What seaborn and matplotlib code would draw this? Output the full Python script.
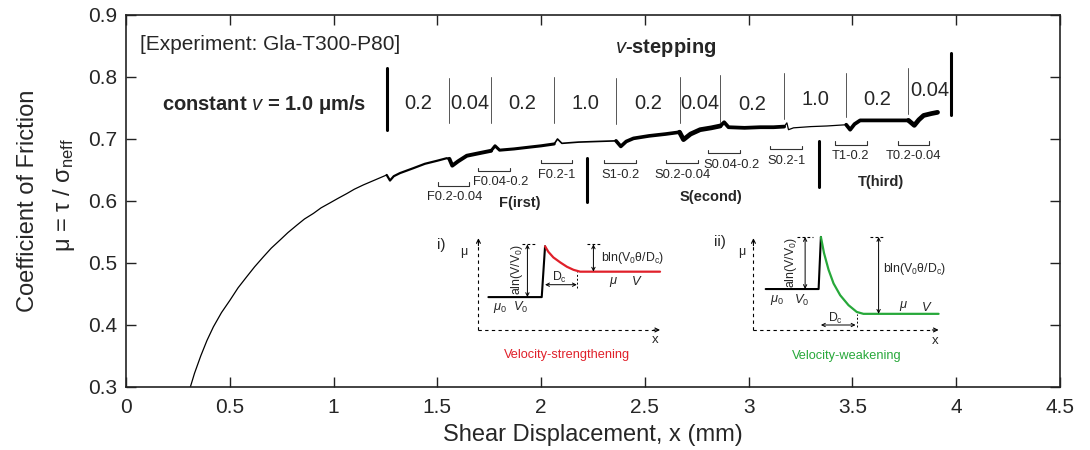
import numpy as np
import pandas as pd
import matplotlib
matplotlib.use("Agg")
import matplotlib.pyplot as plt
import seaborn as sns

# ---------------- data ----------------
disp_mm = [0.31, 0.33, 0.36, 0.39, 0.421, 0.46, 0.501, 0.54, 0.582, 0.62, 0.662, 0.70,
           0.742, 0.78, 0.823, 0.86, 0.903, 0.94, 0.983, 1.02, 1.064, 1.10, 1.144, 1.20,
           1.256, 1.272, 1.29, 1.32, 1.385, 1.44, 1.50, 1.545, 1.558, 1.572, 1.60, 1.642,
           1.70, 1.759, 1.778, 1.80, 1.87, 1.947, 2.00, 2.063, 2.079, 2.10, 2.18, 2.268,
           2.361, 2.384, 2.41, 2.445, 2.52, 2.60, 2.667, 2.686, 2.72, 2.766, 2.82, 2.863,
           2.882, 2.903, 2.98, 3.055, 3.12, 3.171, 3.184, 3.192, 3.216, 3.30, 3.377, 3.470,
           3.489, 3.51, 3.537, 3.62, 3.70, 3.770, 3.798, 3.82, 3.843, 3.88, 3.91]
mu = [0.300, 0.322, 0.350, 0.375, 0.397, 0.420, 0.440, 0.460, 0.478, 0.494, 0.510, 0.524,
      0.537, 0.549, 0.561, 0.571, 0.580, 0.589, 0.597, 0.604, 0.612, 0.619, 0.626, 0.634,
      0.642, 0.633, 0.640, 0.645, 0.653, 0.660, 0.665, 0.669, 0.668, 0.657, 0.664, 0.673,
      0.677, 0.681, 0.689, 0.682, 0.684, 0.687, 0.689, 0.692, 0.700, 0.693, 0.695, 0.696,
      0.697, 0.688, 0.696, 0.701, 0.705, 0.708, 0.711, 0.699, 0.708, 0.715, 0.718, 0.721,
      0.727, 0.719, 0.718, 0.719, 0.719, 0.720, 0.726, 0.715, 0.718, 0.720, 0.721, 0.723,
      0.715, 0.724, 0.730, 0.730, 0.730, 0.730, 0.722, 0.731, 0.738, 0.741, 0.743]

step_bounds = [1.256, 1.558, 1.759, 2.063, 2.361, 2.667, 2.863, 3.171, 3.470, 3.770, 3.976]
step_velocity = ["0.2", "0.04", "0.2", "1.0", "0.2", "0.04", "0.2", "1.0", "0.2", "0.04"]
step_label_y = [0.757, 0.757, 0.757, 0.758, 0.757, 0.757, 0.755, 0.763, 0.763, 0.779]
sep_ymin = [0.715, 0.726, 0.726, 0.726, 0.725, 0.726, 0.728, 0.732, 0.735, 0.741, 0.739]
sep_ymax = [0.814, 0.798, 0.800, 0.800, 0.798, 0.800, 0.803, 0.806, 0.806, 0.815, 0.838]

bracket_names = ["F0.2-0.04", "F0.04-0.2", "F0.2-1", "S1-0.2", "S0.2-0.04",
                 "S0.04-0.2", "S0.2-1", "T1-0.2", "T0.2-0.04"]
bracket_x0 = [1.502, 1.698, 1.999, 2.304, 2.602, 2.806, 3.104, 3.414, 3.719]
bracket_x1 = [1.654, 1.851, 2.151, 2.458, 2.758, 2.959, 3.256, 3.570, 3.871]
bracket_y = [0.625, 0.649, 0.661, 0.661, 0.661, 0.677, 0.684, 0.691, 0.691]
bracket_label_x = [1.582, 1.805, 2.075, 2.381, 2.683, 2.919, 3.184, 3.492, 3.794]

section_names = ["F(irst)", "S(econd)", "T(hird)"]
section_x = [1.899, 2.819, 3.638]
section_y = [0.596, 0.607, 0.630]
section_sep_x = [2.223, 3.340]
section_sep_ymin = [0.599, 0.623]
section_sep_ymax = [0.669, 0.696]

# schematic (i) velocity-strengthening
vs_base_x = [1.746, 2.003, 2.019]
vs_base_y = [0.445, 0.445, 0.527]
vs_decay_x = [2.019, 2.035, 2.059, 2.092, 2.124, 2.156, 2.188, 2.573]
vs_decay_y = [0.527, 0.518, 0.509, 0.501, 0.494, 0.489, 0.486, 0.486]
# schematic (ii) velocity-weakening
vw_base_x = [3.082, 3.337, 3.348]
vw_base_y = [0.458, 0.458, 0.542]
vw_decay_x = [3.348, 3.363, 3.385, 3.409, 3.441, 3.481, 3.521, 3.553, 3.915]
vw_decay_y = [0.542, 0.516, 0.489, 0.467, 0.448, 0.432, 0.421, 0.418, 0.418]

x_ticks = [0, 0.5, 1, 1.5, 2, 2.5, 3, 3.5, 4, 4.5]
x_ticklabels = ["0", "0.5", "1", "1.5", "2", "2.5", "3", "3.5", "4", "4.5"]
y_ticks = [0.3, 0.4, 0.5, 0.6, 0.7, 0.8, 0.9]
y_ticklabels = ["0.3", "0.4", "0.5", "0.6", "0.7", "0.8", "0.9"]

# ---------------- style ----------------
sns.set_theme(style="ticks")
plt.rcParams['font.family'] = ['Liberation Sans', 'DejaVu Sans']
plt.rcParams['mathtext.fontset'] = 'custom'
plt.rcParams['mathtext.rm'] = 'Liberation Sans'
plt.rcParams['mathtext.it'] = 'Liberation Sans:italic'
plt.rcParams['mathtext.bf'] = 'Liberation Sans:bold'
plt.rcParams['patch.edgecolor'] = 'black'

fig = plt.figure(figsize=(10.9, 4.5), dpi=100)
ax = fig.add_axes([126 / 1090, 63 / 450, 934 / 1090, 372 / 450])

df = pd.DataFrame({"x": disp_mm, "mu": mu})
edges = [min(disp_mm)] + step_bounds[:-1] + [max(disp_mm)]
seg_lw = [0.9, 1.6, 2.8, 2.2, 1.2, 2.6, 3.4, 2.7, 0.9, 2.7, 3.4]
for i in range(len(edges) - 1):
    sub = df[(df.x >= edges[i]) & (df.x <= edges[i + 1])]
    sns.lineplot(data=sub, x="x", y="mu", ax=ax, color="black", lw=seg_lw[i],
                 estimator=None, sort=False, legend=False)

ax.set_xlim(0, 4.5)
ax.set_ylim(0.3, 0.9)
ax.set_xticks(x_ticks)
ax.set_xticklabels(x_ticklabels, fontsize=15)
ax.set_yticks(y_ticks)
ax.set_yticklabels(y_ticklabels, fontsize=15)
ax.tick_params(direction="in", length=7, width=1, top=True, right=True,
               labeltop=False, labelright=False, color="#222222")
ax.tick_params(axis="x", pad=8)
ax.tick_params(axis="y", pad=6)
for s in ax.spines.values():
    s.set_linewidth(1.2)
    s.set_color("#222222")
ax.set_xlabel("Shear Displacement, x (mm)", fontsize=17, labelpad=5)
ax.set_ylabel("")

fig.text(28 / 1090, 1 - 201 / 450, "Coefficient of Friction", rotation=90,
         ha="center", va="center", fontsize=17)
fig.text(64 / 1090, 1 - 195 / 450, r"μ = τ / σ$_\mathregular{neff}$", rotation=90,
         ha="center", va="center", fontsize=17)

# velocity-step annotation
for i, b in enumerate(step_bounds):
    thick = (i == 0) or (i == len(step_bounds) - 1)
    ax.plot([b, b], [sep_ymin[i], sep_ymax[i]], color="black" if thick else "#555555",
            lw=2.2 if thick else 0.7)
for i, v in enumerate(step_velocity):
    xc = 0.5 * (step_bounds[i] + step_bounds[i + 1])
    ax.text(xc, step_label_y[i], v, ha="center", va="center", fontsize=14.5)

ax.text(0.694, 0.852, "[Experiment: Gla-T300-P80]", ha="center", va="center", fontsize=15)
ax.text(0.665, 0.755, r"constant $\mathbf{\mathit{v}}$ = 1.0 μm/s", ha="center",
        va="center", fontsize=14.5, fontweight="bold")
ax.text(2.60, 0.848, r"$\mathbf{\mathit{v}}$-stepping", ha="center", va="center",
        fontsize=14.5, fontweight="bold")

# brackets
bh = 0.005
for name, x0, x1, y, lx in zip(bracket_names, bracket_x0, bracket_x1, bracket_y,
                               bracket_label_x):
    ax.plot([x0, x0, x1, x1], [y + bh, y, y, y + bh], color="#333333", lw=0.8)
    ax.text(lx, y - 0.019, name, ha="center", va="center", fontsize=9.3)
for x, y0, y1 in zip(section_sep_x, section_sep_ymin, section_sep_ymax):
    ax.plot([x, x], [y0, y1], color="black", lw=2.2)
for name, x, y in zip(section_names, section_x, section_y):
    ax.text(x, y, name, ha="center", va="center", fontsize=10.5, fontweight="bold")


# ---------------- schematics ----------------
def dashed_axes(x0, x1, y0, y1):
    ax.plot([x0, x0], [y0, y1 - 0.008], color="black", lw=0.8, ls=(0, (3, 3)))
    ax.plot([x0, x1 - 0.02], [y0, y0], color="black", lw=0.8, ls=(0, (3, 3)))
    ax.annotate("", xy=(x0, y1), xytext=(x0, y1 - 0.012),
                arrowprops=dict(arrowstyle="->", lw=0.8, mutation_scale=7,
                                color="black", shrinkA=0, shrinkB=0))
    ax.annotate("", xy=(x1, y0), xytext=(x1 - 0.03, y0),
                arrowprops=dict(arrowstyle="->", lw=0.8, mutation_scale=7,
                                color="black", shrinkA=0, shrinkB=0))


def darrow(p0, p1):
    ax.annotate("", xy=p1, xytext=p0,
                arrowprops=dict(arrowstyle="<->", lw=0.7, mutation_scale=6,
                                color="black", shrinkA=0, shrinkB=0))


red = "#e0202a"
green = "#27a83a"
fs = 8.8

# (i)
dashed_axes(1.698, 2.573, 0.392, 0.540)
ax.plot(vs_base_x, vs_base_y, color="black", lw=1.5)
ax.plot(vs_decay_x, vs_decay_y, color=red, lw=1.6)
ax.plot([1.907, 1.979], [0.531, 0.531], color="black", lw=0.8, ls=(0, (2.5, 2)))
ax.plot([2.220, 2.292], [0.531, 0.531], color="black", lw=0.8, ls=(0, (2.5, 2)))
darrow((1.934, 0.445), (1.934, 0.530))
darrow((2.252, 0.486), (2.252, 0.530))
darrow((2.019, 0.465), (2.172, 0.465))
ax.plot([2.172, 2.172], [0.460, 0.486], color="black", lw=0.7, ls=(0, (2, 2)))
ax.text(1.521, 0.529, "i)", fontsize=11, ha="center", va="center")
ax.text(1.626, 0.518, "μ", fontsize=9, ha="center", va="center")
ax.text(1.883, 0.489, r"aln(V/V$_\mathregular{0}$)", fontsize=fs, rotation=90,
        ha="center", va="center")
ax.text(2.089, 0.476, r"D$_\mathregular{c}$", fontsize=fs, ha="center", va="center")
ax.text(2.290, 0.508, r"bln(V$_\mathregular{0}$θ/D$_\mathregular{c}$)", fontsize=fs,
        ha="left", va="center")
ax.text(2.348, 0.470, r"$\mu$", fontsize=fs + 0.5, ha="center", va="center")
ax.text(2.461, 0.470, r"$V$", fontsize=fs + 0.5, ha="center", va="center")
ax.text(1.802, 0.428, r"$\mu_0$", fontsize=fs + 0.5, ha="center", va="center")
ax.text(1.899, 0.428, r"$V_0$", fontsize=fs + 0.5, ha="center", va="center")
ax.text(2.549, 0.376, "x", fontsize=9.5, ha="center", va="center")
ax.text(2.124, 0.352, "Velocity-strengthening", color=red, fontsize=9.2,
        ha="center", va="center")

# (ii)
dashed_axes(3.023, 3.915, 0.392, 0.540)
ax.plot(vw_base_x, vw_base_y, color="black", lw=1.5)
ax.plot(vw_decay_x, vw_decay_y, color=green, lw=1.6)
ax.plot([3.231, 3.312], [0.542, 0.542], color="black", lw=0.8, ls=(0, (2.5, 2)))
ax.plot([3.586, 3.658], [0.542, 0.542], color="black", lw=0.8, ls=(0, (2.5, 2)))
darrow((3.272, 0.458), (3.272, 0.542))
darrow((3.626, 0.418), (3.626, 0.542))
darrow((3.348, 0.400), (3.515, 0.400))
ax.plot([3.521, 3.521], [0.396, 0.418], color="black", lw=0.7, ls=(0, (2, 2)))
ax.text(2.863, 0.534, "ii)", fontsize=11, ha="center", va="center")
ax.text(2.967, 0.517, "μ", fontsize=9, ha="center", va="center")
ax.text(3.205, 0.500, r"aln(V/V$_\mathregular{0}$)", fontsize=fs, rotation=90,
        ha="center", va="center")
ax.text(3.417, 0.411, r"D$_\mathregular{c}$", fontsize=fs, ha="center", va="center")
ax.text(3.645, 0.491, r"bln(V$_\mathregular{0}$θ/D$_\mathregular{c}$)", fontsize=fs,
        ha="left", va="center")
ax.text(3.747, 0.431, r"$\mu$", fontsize=fs + 0.5, ha="center", va="center")
ax.text(3.859, 0.429, r"$V$", fontsize=fs + 0.5, ha="center", va="center")
ax.text(3.136, 0.440, r"$\mu_0$", fontsize=fs + 0.5, ha="center", va="center")
ax.text(3.256, 0.440, r"$V_0$", fontsize=fs + 0.5, ha="center", va="center")
ax.text(3.899, 0.375, "x", fontsize=9.5, ha="center", va="center")
ax.text(3.472, 0.350, "Velocity-weakening", color=green, fontsize=9.2,
        ha="center", va="center")

fig.savefig("out.png", dpi=100)
